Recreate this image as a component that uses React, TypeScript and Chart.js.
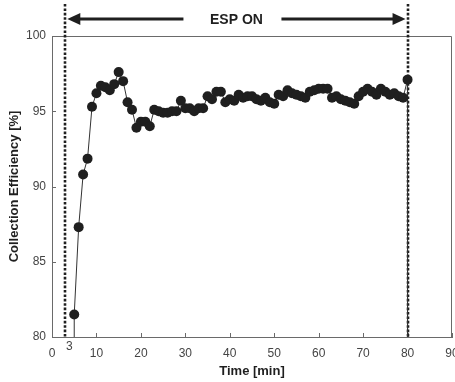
import React, { useEffect, useRef } from "react";
import { Chart, registerables } from "chart.js";

Chart.register(...registerables);

// Time axis values [min]; the first and last entries are the off-scale lead-in/lead-out of the trace
const TIME_MIN = [
  5, 5, 6, 7, 8, 9, 10, 11, 12, 13, 14, 15, 16, 17, 18, 19, 20, 21, 22, 23, 24,
  25, 26, 27, 28, 29, 30, 31, 32, 33, 34, 35, 36, 37, 38, 39, 40, 41, 42, 43, 44,
  45, 46, 47, 48, 49, 50, 51, 52, 53, 54, 55, 56, 57, 58, 59, 60, 61, 62, 63, 64,
  65, 66, 67, 68, 69, 70, 71, 72, 73, 74, 75, 76, 77, 78, 79, 80, 80,
];

// Collection efficiency [%]
const EFFICIENCY = [
  60,
  81.5, 87.3, 90.8, 91.85, 95.3, 96.2, 96.7, 96.6, 96.4, 96.8,
  97.6, 97.0, 95.6, 95.1, 93.9, 94.3, 94.3, 94.0, 95.1, 95.0,
  94.9, 94.9, 95.0, 95.0, 95.7, 95.2, 95.2, 95.0, 95.2, 95.2,
  96.0, 95.8, 96.3, 96.3, 95.6, 95.8, 95.7, 96.1, 95.9, 96.0,
  96.0, 95.8, 95.7, 95.9, 95.6, 95.5, 96.1, 96.0, 96.4, 96.2,
  96.1, 96.0, 95.9, 96.3, 96.4, 96.5, 96.5, 96.5, 95.9, 96.0,
  95.8, 95.7, 95.6, 95.5, 96.0, 96.3, 96.5, 96.3, 96.1, 96.5,
  96.3, 96.1, 96.2, 96.0, 95.9, 97.1,
  60,
];

const X_MIN = 0;
const X_MAX = 90;
const X_STEP = 10;
const Y_MIN = 80;
const Y_MAX = 100;
const Y_STEP = 5;

const ESP_START = 3;
const ESP_END = 80;
const ESP_LABEL = "ESP ON";
const ESP_START_LABEL = "3";

const X_TITLE = "Time [min]";
const Y_TITLE = "Collection Efficiency [%]";

const FONT = "'Liberation Sans', Arial, Helvetica, sans-serif";
const INK = "#1f1f1f";
const FRAME = "#6a6a6a";

const overlay = {
  id: "espOverlay",
  beforeDatasetsDraw(chart: any) {
    const { ctx, chartArea, scales } = chart;
    const xs = scales.x;
    const ys = scales.y;
    ctx.save();
    // top and right frame
    ctx.strokeStyle = FRAME;
    ctx.lineWidth = 1;
    ctx.beginPath();
    ctx.moveTo(chartArea.left, chartArea.top + 0.5);
    ctx.lineTo(chartArea.right - 0.5, chartArea.top + 0.5);
    ctx.lineTo(chartArea.right - 0.5, chartArea.bottom);
    ctx.stroke();
    // inward tick marks
    ctx.beginPath();
    xs.ticks.forEach((t: any) => {
      const px = Math.round(xs.getPixelForValue(t.value)) + 0.5;
      ctx.moveTo(px, chartArea.bottom);
      ctx.lineTo(px, chartArea.bottom - 4);
    });
    ys.ticks.forEach((t: any) => {
      const py = Math.round(ys.getPixelForValue(t.value)) + 0.5;
      ctx.moveTo(chartArea.left, py);
      ctx.lineTo(chartArea.left + 4, py);
    });
    ctx.stroke();
    // dotted ESP markers
    ctx.setLineDash([2.6, 1.8]);
    ctx.lineWidth = 2.6;
    ctx.strokeStyle = INK;
    [ESP_START, ESP_END].forEach((v) => {
      const px = Math.round(xs.getPixelForValue(v));
      ctx.beginPath();
      ctx.moveTo(px, 4);
      ctx.lineTo(px, chartArea.bottom);
      ctx.stroke();
    });
    ctx.restore();
  },
  afterDraw(chart: any) {
    const { ctx, chartArea, scales } = chart;
    const xs = scales.x;
    const x0 = xs.getPixelForValue(ESP_START) + 2;
    const x1 = xs.getPixelForValue(ESP_END) - 2;
    const y = 19;
    const cx = (x0 + x1) / 2;
    ctx.save();
    ctx.fillStyle = INK;
    ctx.strokeStyle = INK;
    ctx.lineWidth = 2.8;
    ctx.beginPath();
    ctx.moveTo(x0 + 10, y);
    ctx.lineTo(cx - 53, y);
    ctx.moveTo(cx + 45, y);
    ctx.lineTo(x1 - 10, y);
    ctx.stroke();
    // arrow heads
    ctx.beginPath();
    ctx.moveTo(x0, y);
    ctx.lineTo(x0 + 13, y - 6);
    ctx.lineTo(x0 + 13, y + 6);
    ctx.closePath();
    ctx.fill();
    ctx.beginPath();
    ctx.moveTo(x1, y);
    ctx.lineTo(x1 - 13, y - 6);
    ctx.lineTo(x1 - 13, y + 6);
    ctx.closePath();
    ctx.fill();
    // label
    ctx.font = `bold 14px ${FONT}`;
    ctx.textAlign = "center";
    ctx.textBaseline = "middle";
    ctx.fillText(ESP_LABEL, cx, y + 1);
    // "3" start label
    ctx.font = `12px ${FONT}`;
    ctx.fillStyle = "#444";
    ctx.fillText(ESP_START_LABEL, xs.getPixelForValue(ESP_START) + 4, chartArea.bottom + 10);
    ctx.restore();
  },
};

export default function App() {
  const ref = useRef<HTMLCanvasElement | null>(null);

  useEffect(() => {
    if (!ref.current) return;
    const points = TIME_MIN.map((t, i) => ({ x: t, y: EFFICIENCY[i] }));
    const chart = new Chart(ref.current, {
      type: "scatter",
      data: {
        datasets: [
          {
            data: points,
            showLine: true,
            borderColor: "#333",
            borderWidth: 1,
            backgroundColor: INK,
            pointBackgroundColor: INK,
            pointBorderColor: INK,
            pointBorderWidth: 0,
            pointRadius: (c: any) => (c.raw && c.raw.y < Y_MIN ? 0 : 5),
            pointHoverRadius: 0,
          },
        ],
      },
      options: {
        responsive: false,
        animation: false,
        events: [],
        layout: { padding: { top: 36, right: 18, left: 0, bottom: 0 } },
        plugins: { legend: { display: false }, tooltip: { enabled: false } },
        scales: {
          x: {
            type: "linear",
            min: X_MIN,
            max: X_MAX,
            ticks: {
              stepSize: X_STEP,
              color: "#444",
              padding: 9,
              font: { family: FONT, size: 12 },
              maxRotation: 0,
            },
            grid: { display: false, drawTicks: false },
            border: { display: true, color: FRAME, width: 1 },
            title: {
              display: true,
              text: X_TITLE,
              color: INK,
              font: { family: FONT, size: 13, weight: "bold" },
              padding: { top: 0, bottom: 3 },
            },
            afterFit: (s: any) => {
              s.height = 45;
            },
          },
          y: {
            type: "linear",
            min: Y_MIN,
            max: Y_MAX,
            ticks: {
              stepSize: Y_STEP,
              color: "#444",
              padding: 6,
              font: { family: FONT, size: 12 },
            },
            grid: { display: false, drawTicks: false },
            border: { display: true, color: FRAME, width: 1 },
            title: {
              display: true,
              text: Y_TITLE,
              color: INK,
              font: { family: FONT, size: 13, weight: "bold" },
              padding: { top: 7, bottom: 0 },
            },
            afterFit: (s: any) => {
              s.width = 52;
            },
          },
        },
      },
      plugins: [overlay],
    });
    return () => chart.destroy();
  }, []);

  return (
    <div
      style={{
        position: "fixed",
        left: 0,
        top: 0,
        width: 455,
        height: 382,
        overflow: "hidden",
        background: "#fff",
      }}
    >
      <canvas ref={ref} width={470} height={382} style={{ display: "block" }} />
    </div>
  );
}
